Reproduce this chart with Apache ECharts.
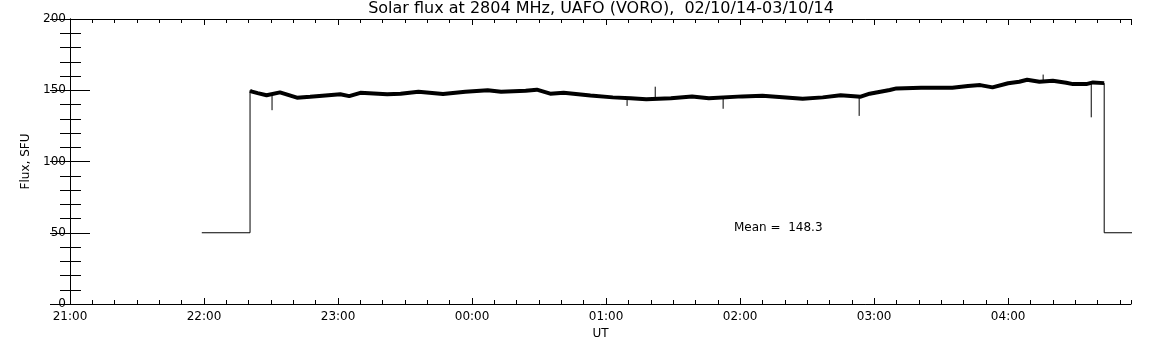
<!DOCTYPE html>
<html>
<head>
<meta charset="utf-8">
<script src="https://cdn.jsdelivr.net/npm/echarts@6/dist/echarts.min.js"></script>
<style>
html,body{margin:0;padding:0;background:#fff;}
#chart{width:1152px;height:345px;}
</style>
</head>
<body>
<div id="chart"></div>
<script>
// ---- Data (UT clock times) ----
const titleText = 'Solar flux at 2804 MHz, UAFO (VORO),  02/10/14-03/10/14';
const meanValue = 148.3;

// baseline level before / after the observing session
const preTimes  = ['21:59:00', '22:20:36', '22:20:36'];
const preFlux   = [50, 50, 150];
const postTimes = ['04:43:00', '04:43:00', '05:00:00'];
const postFlux  = [155, 50, 50];

// observed flux (noisy band)
const fluxTimes = [
  '22:20:36','22:21:30','22:24:00','22:28:00','22:34:00','22:41:36','22:47:30','22:53:00',
  '23:01:00','23:05:00','23:10:00','23:22:00','23:28:00','23:36:00','23:47:00','23:57:00',
  '00:07:00','00:13:00','00:24:00','00:29:00','00:35:00','00:41:00','00:53:00','01:03:00',
  '01:11:00','01:18:00','01:29:00','01:38:30','01:46:00','02:01:00','02:10:00','02:28:00',
  '02:37:00','02:45:00','02:54:00','02:58:00','03:07:00','03:10:00','03:21:00','03:35:00',
  '03:42:00','03:47:30','03:53:00','04:00:00','04:05:00','04:08:30','04:14:00','04:20:00',
  '04:26:00','04:29:00','04:35:00','04:38:00','04:43:00'
];
const fluxValues = [
  149.5,149,148,146.5,148.5,144.8,145.5,146.2,
  147.2,145.9,148.2,147.2,147.5,149,147.4,149,
  150,149,149.7,150.4,147.6,148.3,146.3,145,
  144.4,143.7,144.4,145.6,144.4,145.7,146.2,144,
  145,146.5,145.5,147.6,150.2,151.3,151.8,151.8,
  153,153.6,152,154.9,156,157.4,156,156.6,
  155.3,154.3,154.3,155.5,155
];

// short one-sample spikes
const spikeTimes = ['22:30:27','01:09:24','01:22:00','01:52:24','02:53:18','04:15:40','04:37:12'];
const spikeBase  = [147, 144.5, 144, 145, 145.5, 157, 154.5];
const spikeTip   = [136, 139, 152.5, 137, 132, 161, 131];

// axis ticks
const xStartHour = 21;          // 21:00 UT at the left edge
const xMaxMinutes = 475;        // right edge (04:55 UT)
const yTicks = [0, 50, 100, 150, 200];

// ---- helpers ----
function toMin(s) {
  const p = s.split(':').map(Number);
  let h = p[0];
  if (h < xStartHour) h += 24;
  return (h - xStartHour) * 60 + p[1] + (p[2] || 0) / 60;
}
function fmt(v) {
  const tot = Math.round(xStartHour * 60 + v);
  const h = Math.floor(tot / 60) % 24, m = tot % 60;
  return String(h).padStart(2, '0') + ':' + String(m).padStart(2, '0');
}
const pair = (ts, vs) => ts.map((t, i) => [toMin(t), vs[i]]);

const spikeData = [];
spikeTimes.forEach((t, i) => {
  spikeData.push([toMin(t), spikeBase[i]], [toMin(t), spikeTip[i]], [null, null]);
});

const FONT = 'DejaVu Sans';
const txt = { color: '#000', fontFamily: FONT, fontSize: 12 };

const chart = echarts.init(document.getElementById('chart'), null, { renderer: 'canvas' });

const xBase = { type: 'value', min: 0, max: xMaxMinutes, splitLine: { show: false } };
const yBase = { type: 'value', min: yTicks[0], max: yTicks[yTicks.length - 1], interval: 50, splitLine: { show: false } };

chart.setOption({
  animation: false,
  backgroundColor: '#fff',
  grid: { left: 70, right: 21, top: 19, bottom: 41 },
  xAxis: [
    Object.assign({}, xBase, {
      position: 'bottom', interval: 60,
      axisLine: { show: true, lineStyle: { color: '#000', width: 1 } },
      axisTick: { show: true, inside: true, length: 6, lineStyle: { color: '#000' } },
      axisLabel: Object.assign({ margin: 7, formatter: fmt, showMaxLabel: false }, txt),
      name: 'UT', nameLocation: 'middle', nameGap: 18, nameTextStyle: txt
    }),
    Object.assign({}, xBase, {
      position: 'bottom', interval: 10,
      axisLine: { show: false },
      axisTick: { show: true, inside: true, length: 4, lineStyle: { color: '#000' } },
      axisLabel: { show: false }
    }),
    Object.assign({}, xBase, {
      position: 'top', interval: 60,
      axisLine: { show: true, lineStyle: { color: '#000', width: 1 } },
      axisTick: { show: true, inside: true, length: 6, lineStyle: { color: '#000' } },
      axisLabel: { show: false }
    }),
    Object.assign({}, xBase, {
      position: 'top', interval: 10,
      axisLine: { show: false },
      axisTick: { show: true, inside: true, length: 4, lineStyle: { color: '#000' } },
      axisLabel: { show: false }
    })
  ],
  yAxis: [
    Object.assign({}, yBase, {
      position: 'left',
      axisLine: { show: true, lineStyle: { color: '#000', width: 1 } },
      axisTick: { show: true, inside: true, length: 20, lineStyle: { color: '#000' } },
      minorTick: { show: true, splitNumber: 5, length: 11, lineStyle: { color: '#000' } },
      minorSplitLine: { show: false },
      axisLabel: Object.assign({ margin: 4 }, txt),
      name: 'Flux, SFU', nameLocation: 'middle', nameGap: 28, nameRotate: 90, nameTextStyle: txt
    }),
    Object.assign({}, yBase, {
      position: 'right',
      axisLine: { show: true, lineStyle: { color: '#000', width: 1 } },
      axisTick: { show: true, inside: true, length: 20, lineStyle: { color: '#000' } },
      minorTick: { show: true, splitNumber: 5, length: 10, lineStyle: { color: '#000' } },
      minorSplitLine: { show: false },
      axisLabel: { show: false }
    })
  ],
  graphic: [
    {
      type: 'text', x: 601, y: 1,
      style: { text: titleText, fill: '#000', font: '16px "DejaVu Sans"', textAlign: 'center', textVerticalAlign: 'top' }
    },
    {
      type: 'text', left: 734, top: 222,
      style: { text: 'Mean =  ' + meanValue.toFixed(1), fill: '#000', font: '12px "DejaVu Sans"' }
    }
  ],
  series: [
    { type: 'line', data: pair(preTimes, preFlux), showSymbol: false, symbol: 'none',
      lineStyle: { color: '#000', width: 1 }, clip: true },
    { type: 'line', data: pair(postTimes, postFlux), showSymbol: false, symbol: 'none',
      lineStyle: { color: '#000', width: 1 }, clip: true },
    { type: 'line', data: pair(fluxTimes, fluxValues), showSymbol: false, symbol: 'none',
      lineStyle: { color: '#000', width: 4, join: 'bevel' }, clip: true },
    { type: 'line', data: spikeData, showSymbol: false, symbol: 'none', connectNulls: false,
      lineStyle: { color: '#000', width: 1 }, clip: true }
  ]
});
</script>
</body>
</html>
